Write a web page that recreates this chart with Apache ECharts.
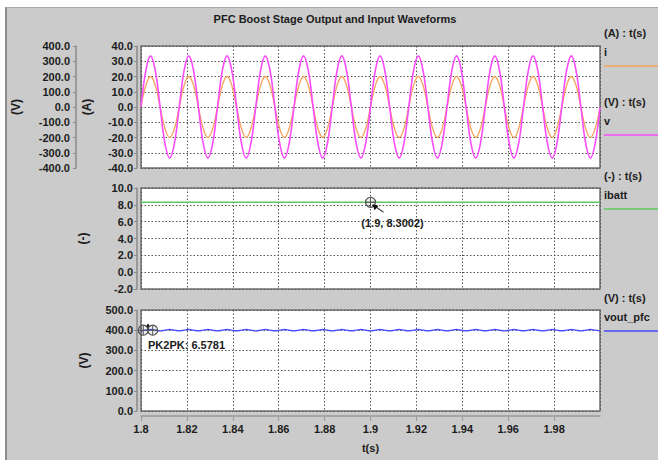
<!DOCTYPE html>
<html>
<head>
<meta charset="utf-8">
<script src="https://cdn.jsdelivr.net/npm/echarts@6/dist/echarts.min.js"></script>
<style>
  html, body { margin: 0; padding: 0; background: #fff; }
  #wrap { position: relative; width: 658px; height: 460px; overflow: hidden; }
  #panel { position: absolute; left: 5px; top: 7px; right: 0; bottom: 0; background: #cbcbcb; border-left: 2px solid #8c8c8c; border-top: 1px solid #a8a8a8; }
  #chart { position: absolute; left: 0; top: 0; width: 658px; height: 460px; }
</style>
</head>
<body>
<div id="wrap"><div id="panel"></div><div id="chart"></div></div>
<script>
// time base (s), eighth steps of the 60 Hz mains period
const timeS = [1.8, 1.80208, 1.80417, 1.80625, 1.80833, 1.81042, 1.8125, 1.81458, 1.81667, 1.81875,
  1.82083, 1.82292, 1.825, 1.82708, 1.82917, 1.83125, 1.83333, 1.83542, 1.8375, 1.83958,
  1.84167, 1.84375, 1.84583, 1.84792, 1.85, 1.85208, 1.85417, 1.85625, 1.85833, 1.86042,
  1.8625, 1.86458, 1.86667, 1.86875, 1.87083, 1.87292, 1.875, 1.87708, 1.87917, 1.88125,
  1.88333, 1.88542, 1.8875, 1.88958, 1.89167, 1.89375, 1.89583, 1.89792, 1.9, 1.90208,
  1.90417, 1.90625, 1.90833, 1.91042, 1.9125, 1.91458, 1.91667, 1.91875, 1.92083, 1.92292,
  1.925, 1.92708, 1.92917, 1.93125, 1.93333, 1.93542, 1.9375, 1.93958, 1.94167, 1.94375,
  1.94583, 1.94792, 1.95, 1.95208, 1.95417, 1.95625, 1.95833, 1.96042, 1.9625, 1.96458,
  1.96667, 1.96875, 1.97083, 1.97292, 1.975, 1.97708, 1.97917, 1.98125, 1.98333, 1.98542,
  1.9875, 1.98958, 1.99167, 1.99375, 1.99583, 1.99792, 2.0];

// input current i (A)
const iIn = [0, 14.1, 20, 14.1, 0, -14.1, -20, -14.1, 0, 14.1, 20, 14.1, 0, -14.1, -20, -14.1,
  0, 14.1, 20, 14.1, 0, -14.1, -20, -14.1, 0, 14.1, 20, 14.1, 0, -14.1, -20, -14.1,
  0, 14.1, 20, 14.1, 0, -14.1, -20, -14.1, 0, 14.1, 20, 14.1, 0, -14.1, -20, -14.1,
  0, 14.1, 20, 14.1, 0, -14.1, -20, -14.1, 0, 14.1, 20, 14.1, 0, -14.1, -20, -14.1,
  0, 14.1, 20, 14.1, 0, -14.1, -20, -14.1, 0, 14.1, 20, 14.1, 0, -14.1, -20, -14.1,
  0, 14.1, 20, 14.1, 0, -14.1, -20, -14.1, 0, 14.1, 20, 14.1, 0, -14.1, -20, -14.1, 0];

// input voltage v (V)
const vIn = [0, 237, 335, 237, 0, -237, -335, -237, 0, 237, 335, 237, 0, -237, -335, -237,
  0, 237, 335, 237, 0, -237, -335, -237, 0, 237, 335, 237, 0, -237, -335, -237,
  0, 237, 335, 237, 0, -237, -335, -237, 0, 237, 335, 237, 0, -237, -335, -237,
  0, 237, 335, 237, 0, -237, -335, -237, 0, 237, 335, 237, 0, -237, -335, -237,
  0, 237, 335, 237, 0, -237, -335, -237, 0, 237, 335, 237, 0, -237, -335, -237,
  0, 237, 335, 237, 0, -237, -335, -237, 0, 237, 335, 237, 0, -237, -335, -237, 0];

// output voltage vout_pfc (V), 120 Hz ripple
const voutPfc = [396.8, 400.1, 403.4, 400.1, 396.8, 400.1, 403.4, 400.1, 396.8, 400.1, 403.4, 400.1,
  396.8, 400.1, 403.4, 400.1, 396.8, 400.1, 403.4, 400.1, 396.8, 400.1, 403.4, 400.1,
  396.8, 400.1, 403.4, 400.1, 396.8, 400.1, 403.4, 400.1, 396.8, 400.1, 403.4, 400.1,
  396.8, 400.1, 403.4, 400.1, 396.8, 400.1, 403.4, 400.1, 396.8, 400.1, 403.4, 400.1,
  396.8, 400.1, 403.4, 400.1, 396.8, 400.1, 403.4, 400.1, 396.8, 400.1, 403.4, 400.1,
  396.8, 400.1, 403.4, 400.1, 396.8, 400.1, 403.4, 400.1, 396.8, 400.1, 403.4, 400.1,
  396.8, 400.1, 403.4, 400.1, 396.8, 400.1, 403.4, 400.1, 396.8, 400.1, 403.4, 400.1,
  396.8, 400.1, 403.4, 400.1, 396.8, 400.1, 403.4, 400.1, 396.8, 400.1, 403.4, 400.1, 396.8];

// battery current ibatt
const ibattTime = [1.8, 2.0];
const ibatt = [8.3002, 8.3002];

// cursors
const ibattCursor = [[1.9, 8.3002]];
const pkPoints = [[1.801, 400], [1.8051, 400]];
const pkValue = 6.5781;

// axis ranges [min, max, interval]
const tRange = [1.8, 2.0, 0.02];
const ampRange = [-40, 40, 10];
const voltRange = [-400, 400, 100];
const battRange = [-2, 10, 2];
const outRange = [0, 500, 100];

const FONT = '"Liberation Sans", Arial, sans-serif';
const txt = { color: '#1c1c1c', fontSize: 11, fontWeight: 'bold', fontFamily: FONT };
const dotted = { show: true, lineStyle: { color: '#555', width: 1, type: [1.5, 2] } };

const chart = echarts.init(document.getElementById('chart'), null, { renderer: 'svg' });

const pair = (xs, ys) => xs.map((x, k) => [x, ys[k]]);

const grids = [
  { left: 141, right: 58, top: 46, height: 122 },
  { left: 141, right: 58, top: 188, height: 101 },
  { left: 141, right: 58, top: 310, height: 101 }
].map(g => Object.assign(g, { show: true, backgroundColor: '#fff', borderColor: '#707070', borderWidth: 1.5 }));

const xAx = (i, last) => ({
  type: 'value', gridIndex: i, min: tRange[0], max: tRange[1], interval: tRange[2],
  offset: last ? 5 : 0,
  splitLine: dotted,
  axisLine: { show: last, onZero: false, lineStyle: { color: '#999', width: 1.5 } },
  axisTick: { show: last, length: 5, lineStyle: { color: '#999' } },
  axisLabel: { show: last, ...txt, margin: 7, showMaxLabel: false },
  name: last ? 't(s)' : '', nameLocation: 'middle', nameGap: 26, nameTextStyle: txt
});

const yAx = (grid, r, name, gap, offset, split, margin) => ({
  type: 'value', gridIndex: grid, min: r[0], max: r[1], interval: r[2], position: 'left', offset,
  name, nameLocation: 'middle', nameRotate: 90, nameGap: gap, nameTextStyle: { ...txt, fontSize: 12 },
  axisLine: { show: true, onZero: false, lineStyle: { color: '#8a8a8a', width: 1.5 } },
  axisTick: { show: true, length: 3, lineStyle: { color: '#8a8a8a' } },
  axisLabel: { ...txt, margin, formatter: v => v.toFixed(1) },
  splitLine: split ? dotted : { show: false }
});

const crossHair = (p, r) => [
  { type: 'circle', shape: { cx: p[0], cy: p[1], r }, style: { fill: 'rgba(0,0,0,0.06)', stroke: '#555', lineWidth: 1.2 } },
  { type: 'line', shape: { x1: p[0] - r, y1: p[1], x2: p[0] + r, y2: p[1] }, style: { stroke: '#555', lineWidth: 1 } },
  { type: 'line', shape: { x1: p[0], y1: p[1] - r, x2: p[0], y2: p[1] + r }, style: { stroke: '#555', lineWidth: 1 } }
];

const legendItems = [
  { unit: '(A) : t(s)', name: 'i', color: '#f5a45c', y: 33 },
  { unit: '(V) : t(s)', name: 'v', color: '#fa4cfa', y: 102 },
  { unit: '(-) : t(s)', name: 'ibatt', color: '#5fc95f', y: 176 },
  { unit: '(V) : t(s)', name: 'vout_pfc', color: '#4b4bff', y: 298 }
];

const graphics = [
  { type: 'text', x: 335, y: 19, style: { text: 'PFC Boost Stage Output and Input Waveforms', textAlign: 'center', textVerticalAlign: 'middle', font: 'bold 11px ' + FONT, fill: '#1c1c1c' } }
];
legendItems.forEach(l => {
  graphics.push(
    { type: 'text', x: 604, y: l.y, style: { text: l.unit, textAlign: 'left', textVerticalAlign: 'middle', font: 'bold 11px ' + FONT, fill: '#1c1c1c' } },
    { type: 'text', x: 604, y: l.y + 19, style: { text: l.name, textAlign: 'left', textVerticalAlign: 'middle', font: 'bold 11px ' + FONT, fill: '#1c1c1c' } },
    { type: 'line', shape: { x1: 604, y1: l.y + 33, x2: 658, y2: l.y + 33 }, style: { stroke: l.color, lineWidth: 1.5 } }
  );
});

chart.setOption({
  animation: false,
  grid: grids,
  xAxis: [xAx(0, false), xAx(1, false), xAx(2, true)],
  yAxis: [
    yAx(0, ampRange, '(A)', 44, 4, true, 4),
    yAx(0, voltRange, '(V)', 54, 65, false, 6),
    yAx(1, battRange, '(-)', 48, 4, true, 4),
    yAx(2, outRange, '(V)', 47, 4, true, 4)
  ],
  graphic: graphics,
  series: [
    { name: 'i', type: 'line', xAxisIndex: 0, yAxisIndex: 0, data: pair(timeS, iIn), smooth: 0.4,
      showSymbol: false, lineStyle: { color: '#f5a45c', width: 1.3 }, itemStyle: { color: '#f5a45c' } },
    { name: 'v', type: 'line', xAxisIndex: 0, yAxisIndex: 1, data: pair(timeS, vIn), smooth: 0.4,
      showSymbol: false, lineStyle: { color: '#fa4cfa', width: 1.6 }, itemStyle: { color: '#fa4cfa' } },
    { name: 'ibatt', type: 'line', xAxisIndex: 1, yAxisIndex: 2, data: pair(ibattTime, ibatt),
      showSymbol: false, lineStyle: { color: '#5fc95f', width: 1.5 }, itemStyle: { color: '#5fc95f' } },
    { name: 'vout_pfc', type: 'line', xAxisIndex: 2, yAxisIndex: 3, data: pair(timeS, voutPfc), smooth: 0.4,
      showSymbol: false, lineStyle: { color: '#4b4bff', width: 1.3 }, itemStyle: { color: '#4b4bff' } },
    { name: 'cursor', type: 'custom', xAxisIndex: 1, yAxisIndex: 2, data: ibattCursor, z: 10, silent: true,
      renderItem: (params, api) => {
        const x = api.value(0), y = api.value(1);
        const p = api.coord([x, y]);
        return { type: 'group', children: crossHair(p, 5).concat([
          { type: 'line', shape: { x1: p[0] + 3, y1: p[1] + 3, x2: p[0] + 13, y2: p[1] + 10 }, style: { stroke: '#444', lineWidth: 1.2 } },
          { type: 'polygon', shape: { points: [[p[0] + 2, p[1] + 2], [p[0] + 8, p[1] + 3.5], [p[0] + 4, p[1] + 8]] }, style: { fill: '#111' } },
          { type: 'text', x: p[0] + 22, y: p[1] + 21, style: { text: '(' + x + ', ' + y.toFixed(4) + ')', textAlign: 'center', textVerticalAlign: 'middle', font: 'bold 11px ' + FONT, fill: '#1c1c1c' } }
        ]) };
      } },
    { name: 'pk2pk', type: 'custom', xAxisIndex: 2, yAxisIndex: 3, data: pkPoints, z: 10, silent: true,
      renderItem: (params, api) => {
        const p = api.coord([api.value(0), api.value(1)]);
        const children = crossHair(p, 5);
        if (params.dataIndex === 0) {
          const q = api.coord([pkPoints[1][0], pkPoints[1][1]]);
          const mx = (p[0] + q[0]) / 2;
          children.push(
            { type: 'line', shape: { x1: mx, y1: p[1], x2: mx, y2: p[1] - 4 }, style: { stroke: '#111', lineWidth: 1.2 } },
            { type: 'polygon', shape: { points: [[mx - 2, p[1] - 3.5], [mx + 2, p[1] - 3.5], [mx, p[1] - 7]] }, style: { fill: '#111' } },
            { type: 'text', x: mx, y: p[1] + 15, style: { text: 'PK2PK: ' + pkValue, textAlign: 'left', textVerticalAlign: 'middle', font: 'bold 11px ' + FONT, fill: '#1c1c1c' } }
          );
        }
        return { type: 'group', children };
      } }
  ]
});
</script>
</body>
</html>
